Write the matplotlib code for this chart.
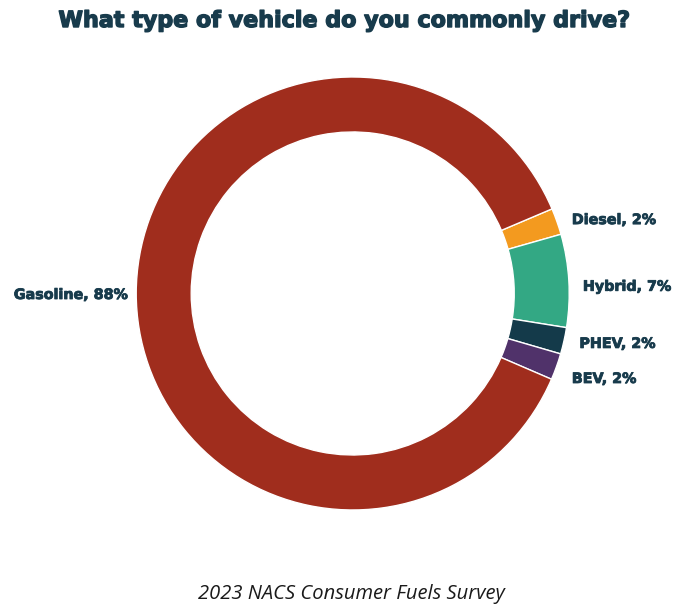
import matplotlib.pyplot as plt
import matplotlib.patheffects as pe

# Survey shares, listed clockwise starting from Diesel
vehicles = ['Diesel', 'Hybrid', 'PHEV', 'BEV', 'Gasoline']
shares = [2, 7, 2, 2, 88]
colors = ['#F39A1F', '#33A884', '#143A4A', '#50326A', '#A02D1D']

# label anchor points (data units, ring radius = 1)
label_pos = {
    'Diesel': (1.012, 0.339, 'left'),
    'Hybrid': (1.063, 0.031, 'left'),
    'PHEV': (1.047, -0.233, 'left'),
    'BEV': (1.012, -0.395, 'left'),
    'Gasoline': (-1.036, -0.007, 'right'),
}

navy = '#183B4C'

fig = plt.figure(figsize=(6.73, 6.09), dpi=100)
ax = fig.add_axes([0.2024, 0.1626, 0.6434, 0.7110])

wedges, _ = ax.pie(shares, colors=colors, startangle=23, counterclock=False,
                   radius=1.0, wedgeprops=dict(width=0.254, edgecolor='white', linewidth=1.0))
ax.set_xlim(-1, 1)
ax.set_ylim(-1, 1)
ax.set_aspect('equal')
ax.axis('off')

# slightly thicker strokes for the heavy headline look
thick = [pe.withStroke(linewidth=0.6, foreground=navy)]

for name, share in zip(vehicles, shares):
    x, y, ha = label_pos[name]
    ax.text(x, y, f'{name}, {share}%', ha=ha, va='center', fontsize=10.3,
            fontweight='bold', family='DejaVu Sans', color=navy, clip_on=False,
            path_effects=thick)

fig.text(0.5126, 0.9655, 'What type of vehicle do you commonly drive?', ha='center', va='center',
         fontsize=16, fontweight='bold', family='DejaVu Sans', color=navy,
         path_effects=[pe.withStroke(linewidth=1.0, foreground=navy)])
fig.text(0.522, 0.025, '2023 NACS Consumer Fuels Survey', ha='center', va='center',
         fontsize=14.5, style='italic', family='Open Sans', color='#1a1a1a')

fig.savefig('out.png', dpi=100)
